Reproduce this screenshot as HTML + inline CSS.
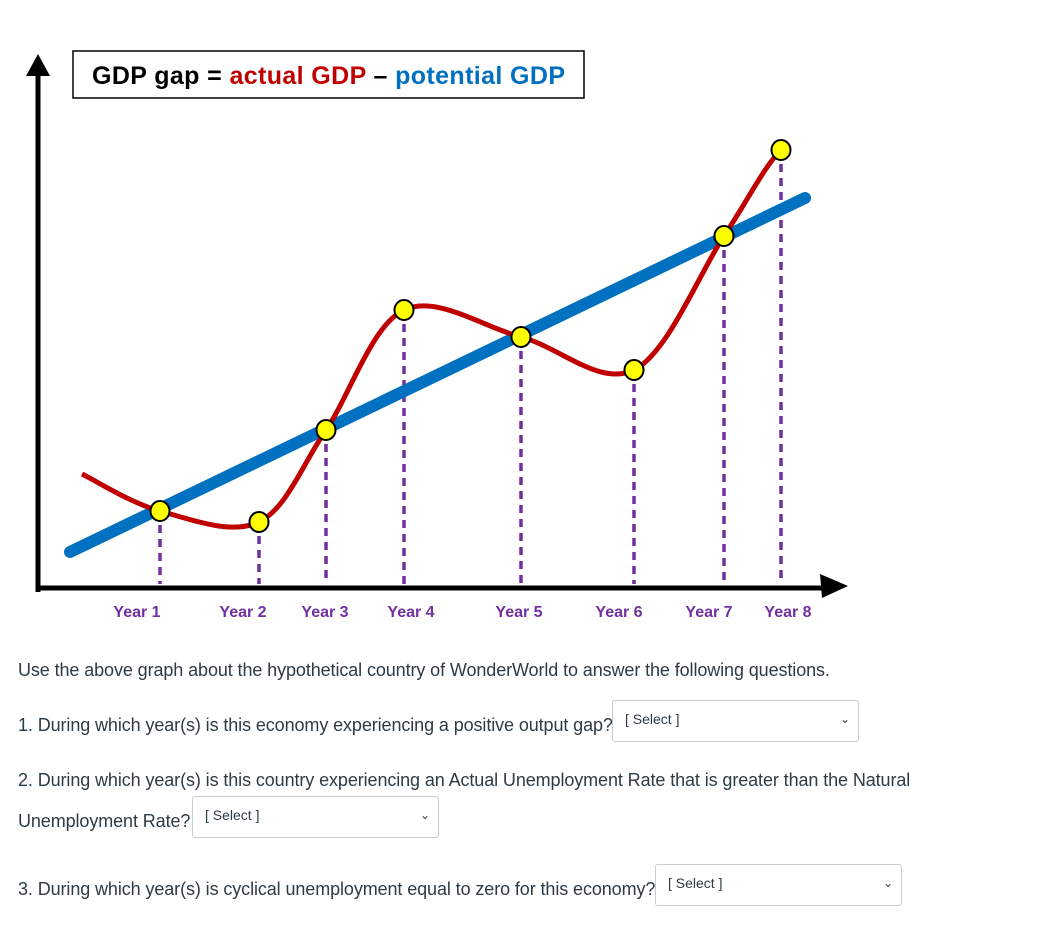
<!DOCTYPE html>
<html><head><meta charset="utf-8"><style>
body{margin:0;background:#fff;width:1047px;height:940px;overflow:hidden;font-family:"Liberation Sans",sans-serif;position:relative}
.q{position:absolute;left:18px;font-size:18px;color:#2d3b45;letter-spacing:-0.1px}
.sel{position:absolute;height:42px;border:1px solid #c7cdd1;border-radius:3px;background:#fff;box-sizing:border-box;font-size:14px;color:#2d3b45;padding:10px 12px}
.sel span.c{position:absolute;right:8px;top:11px;font-size:12px}
</style></head><body>
<svg width="1047" height="640" style="position:absolute;left:0;top:0">
<g id="g"></g>
</svg>
<div class="q" style="top:660px">Use the above graph about the hypothetical country of WonderWorld to answer the following questions.</div>
<div class="q" style="top:715px">1. During which year(s) is this economy experiencing a positive output gap?</div>
<div class="sel" style="left:612px;top:700px;width:247px">[ Select ]<span class="c">&#8964;</span></div>
<div class="q" style="top:770px">2. During which year(s) is this country experiencing an Actual Unemployment Rate that is greater than the Natural</div>
<div class="q" style="top:811px">Unemployment Rate?</div>
<div class="sel" style="left:192px;top:796px;width:247px">[ Select ]<span class="c">&#8964;</span></div>
<div class="q" style="top:879px">3. During which year(s) is cyclical unemployment equal to zero for this economy?</div>
<div class="sel" style="left:655px;top:864px;width:247px">[ Select ]<span class="c">&#8964;</span></div>
<script>
const yearLabels=["Year 1","Year 2","Year 3","Year 4","Year 5","Year 6","Year 7","Year 8"];
const yearT=[12.2,22.1,28.8,36.6,48.3,59.6,68.6,74.3];
const actual=[7.7,6.6,15.8,27.8,25.1,21.8,35.2,43.8];
const actualStart=[4.4,11.4];
const actualEnd=[79,45.5];
const potentialT=[3.2,76.7];
const potential=[3.6,39.0];
const labelT=[9.9,20.5,28.7,37.3,48.1,58.1,67.1,75.0];
const X=t=>38+t*10, Y=v=>588-v*10;
const NS="http://www.w3.org/2000/svg", g=document.getElementById('g');
function mk(tag,a,parent){const e=document.createElementNS(NS,tag);for(const k in a)e.setAttribute(k,a[k]);(parent||g).appendChild(e);return e;}
let e;
e=mk('path',{d:'M38 592 L38 66',stroke:'#000','stroke-width':5,fill:'none'});

e=mk('path',{d:'M26 76 L38 54 L50 76 Z',fill:'#000'});

e=mk('path',{d:'M36 588 L832 588',stroke:'#000','stroke-width':5,fill:'none'});

e=mk('path',{d:'M820 574 L848 586 L822 598 Z',fill:'#000'});

yearT.forEach((t,i)=>{
 e=mk('line',{x1:X(t),y1:Y(actual[i]),x2:X(t),y2:584,stroke:'#7030a0','stroke-width':3.5,'stroke-dasharray':'8 6'});
 
});
e=mk('line',{x1:X(potentialT[0]),y1:Y(potential[0]),x2:X(potentialT[1]),y2:Y(potential[1]),stroke:'#0070c0','stroke-width':12,'stroke-linecap':'round'});

const pts=[[X(actualStart[0]),Y(actualStart[1])]].concat(yearT.map((t,i)=>[X(t),Y(actual[i])]));
const endP=[X(actualEnd[0]),Y(actualEnd[1])];
let d='M'+pts[0][0]+' '+pts[0][1];
for(let i=0;i<pts.length-1;i++){const p0=pts[i-1]||pts[i],p1=pts[i],p2=pts[i+1],p3=pts[i+2]||endP;
 d+=` C${p1[0]+(p2[0]-p0[0])/6} ${p1[1]+(p2[1]-p0[1])/6} ${p2[0]-(p3[0]-p1[0])/6} ${p2[1]-(p3[1]-p1[1])/6} ${p2[0]} ${p2[1]}`;}
e=mk('path',{d:d,stroke:'#c00000','stroke-width':5,fill:'none'});

yearT.forEach((t,i)=>{
 e=mk('ellipse',{cx:X(t),cy:Y(actual[i]),rx:9.5,ry:10,fill:'#ffff00',stroke:'#000','stroke-width':2});
 
});
yearLabels.forEach((l,i)=>{
 e=mk('text',{x:X(labelT[i]),y:617,'text-anchor':'middle','font-size':16,'font-weight':'bold',fill:'#7030a0'});
 e.textContent=l;
 
});
e=mk('rect',{x:73,y:51,width:511,height:47,fill:'#fff',stroke:'#000','stroke-width':1.5});

e=mk('text',{x:92,y:84,'font-size':25,'font-weight':'bold',fill:'#000',textLength:473});

e.innerHTML='GDP gap = <tspan fill="#c00000">actual GDP</tspan> – <tspan fill="#0070c0">potential GDP</tspan>';
</script>
</body></html>
